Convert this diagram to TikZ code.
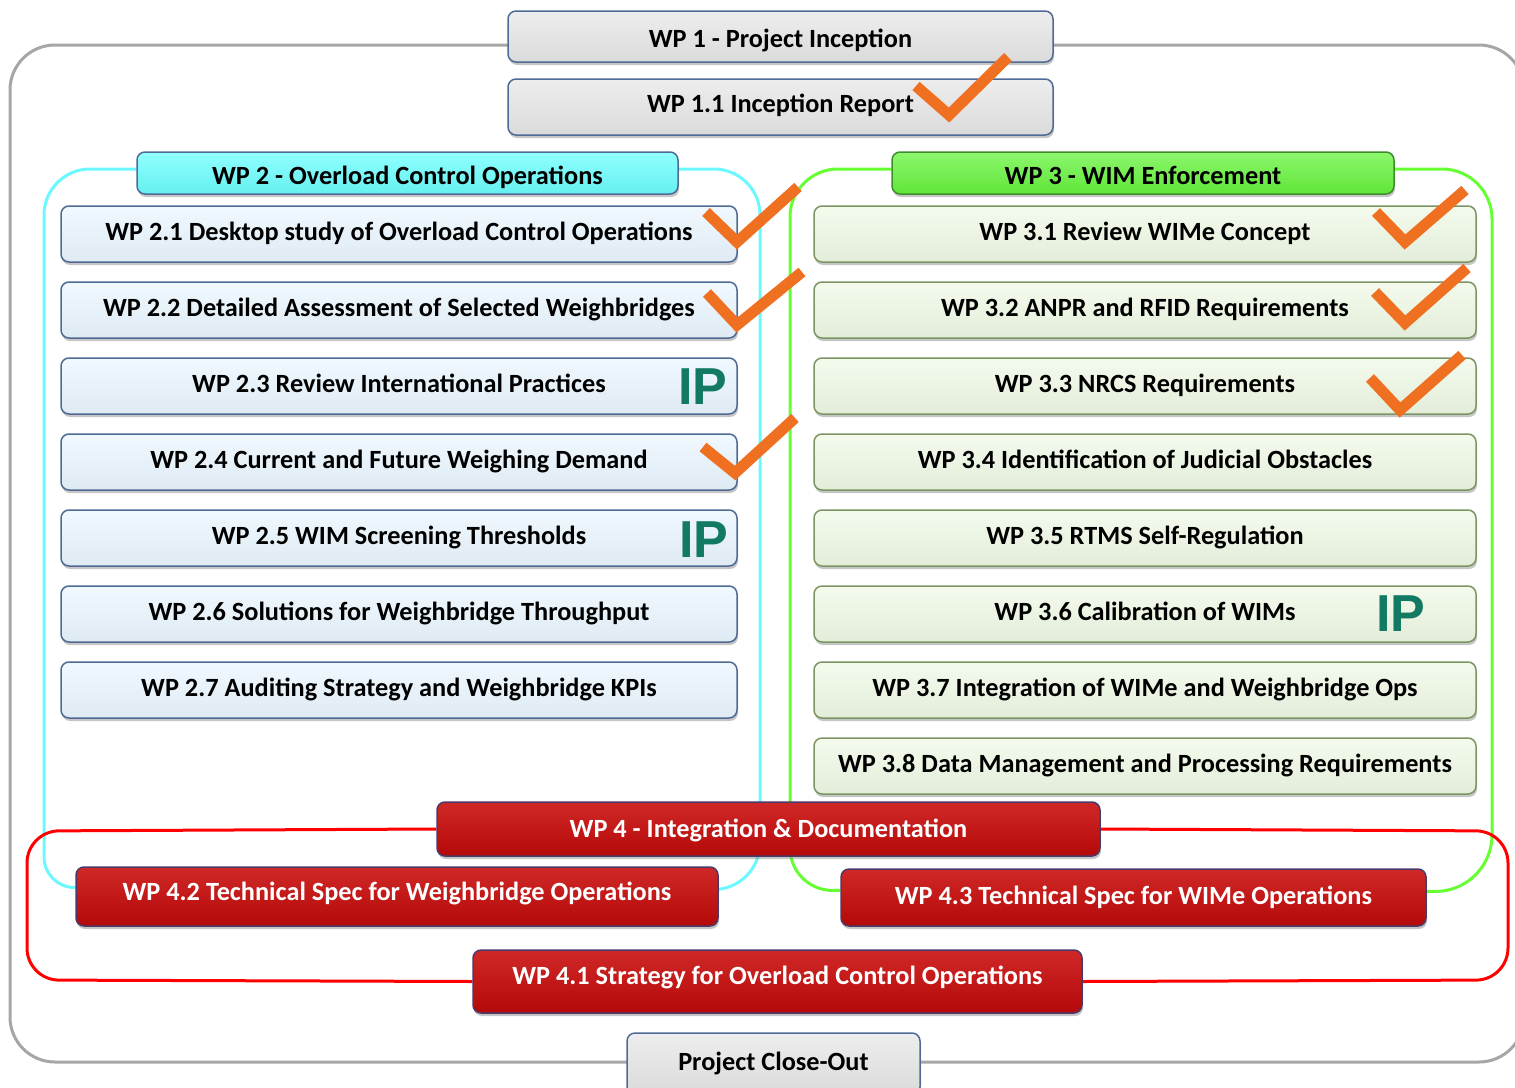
\documentclass[tikz,border=0pt]{standalone}
\usepackage{fontspec}
\setmainfont{Carlito}
\newfontfamily\ipfont{Liberation Sans}
\usetikzlibrary{shadows,calc}
\pgfdeclarelayer{background}
\pgfsetlayers{background,main}
\definecolor{bordblue}{HTML}{4F6B95}
\definecolor{bordgreen}{HTML}{7B9565}
\definecolor{greyfill}{HTML}{E6E6E6}
\definecolor{bluefill}{HTML}{EAF6FF}
\definecolor{greenfill}{HTML}{EFF9E5}
\definecolor{cyanfill}{HTML}{6CFFFF}
\definecolor{limefill}{HTML}{66F43C}
\definecolor{limebord}{HTML}{3E8C2E}
\definecolor{redfill}{HTML}{C90A0A}
\definecolor{redbord}{HTML}{4A3A6A}
\definecolor{frame}{HTML}{A6A6A6}
\definecolor{cyanline}{HTML}{6BF8FF}
\definecolor{greenline}{HTML}{66FF33}
\definecolor{redline}{HTML}{FF0000}
\definecolor{checkor}{HTML}{F07022}
\definecolor{iptxt}{HTML}{127A63}
\begin{document}
\begin{tikzpicture}[x=1pt,y=-1pt,
  wpbase/.style={rounded corners=8pt, line width=1.5pt, inner sep=0pt,
    font=\fontsize{26.3}{30}\selectfont\bfseries, text height=18pt, text depth=5pt,
    drop shadow={shadow xshift=1pt, shadow yshift=-3pt, opacity=0.45}},
  greybox/.style={wpbase, draw=bordblue, top color=greyfill!70!white, middle color=greyfill, bottom color=greyfill!95!black},
  bluebox/.style={wpbase, draw=bordblue, top color=bluefill!70!white, middle color=bluefill, bottom color=bluefill!95!black, minimum width=676pt, minimum height=56pt},
  greenbox/.style={wpbase, draw=bordgreen, top color=greenfill!70!white, middle color=greenfill, bottom color=greenfill!95!black, minimum width=662pt, minimum height=56pt},
  cyanhead/.style={wpbase, draw=bordblue, top color=cyanfill!75!white, middle color=cyanfill, bottom color=cyanfill!94!black, text height=28pt},
  limehead/.style={wpbase, draw=limebord, top color=limefill!75!white, middle color=limefill, bottom color=limefill!94!black, text height=28pt},
  redbox/.style={wpbase, draw=redbord, text=white, top color=redfill!88!white, middle color=redfill, bottom color=redfill!90!black},
  container/.style={line width=3pt},
  checkmark/.style={draw=checkor, line width=11pt, line join=miter, line cap=butt},
  iplabel/.style={inner sep=0pt, text=iptxt, font=\fontsize{52}{56}\ipfont\bfseries}
]
\useasboundingbox (0,0) rectangle (1515,1087);
\clip (0,0) rectangle (1515,1087);

% WP 1
\node[greybox, minimum width=545pt, minimum height=51pt, text height=26pt] (w1) at (780.5,36.5) {WP 1 - Project Inception};
\node[greybox, minimum width=545pt, minimum height=56pt, text depth=7pt] (w11) at (780.5,107) {WP 1.1 Inception Report};

% headers
\node[cyanhead, minimum width=541pt, minimum height=42pt] (w2) at (407.5,173) {WP 2 - Overload Control Operations};
\node[limehead, minimum width=502pt, minimum height=42pt] (w3) at (1143,173) {WP 3 - WIM Enforcement};

% WP 2.x
\node[bluebox] (w21) at (399,234) {WP 2.1 Desktop study of Overload Control Operations};
\node[bluebox] (w22) at (399,310) {WP 2.2 Detailed Assessment of Selected Weighbridges};
\node[bluebox] (w23) at (399,386) {WP 2.3 Review International Practices};
\node[bluebox] (w24) at (399,462) {WP 2.4 Current and Future Weighing Demand};
\node[bluebox] (w25) at (399,538) {WP 2.5 WIM Screening Thresholds};
\node[bluebox] (w26) at (399,614) {WP 2.6 Solutions for Weighbridge Throughput};
\node[bluebox] (w27) at (399,690) {WP 2.7 Auditing Strategy and Weighbridge KPIs};

% WP 3.x
\node[greenbox] (w31) at (1145,234) {WP 3.1 Review WIMe Concept};
\node[greenbox] (w32) at (1145,310) {WP 3.2 ANPR and RFID Requirements};
\node[greenbox] (w33) at (1145,386) {WP 3.3 NRCS Requirements};
\node[greenbox] (w34) at (1145,462) {WP 3.4 Identification of Judicial Obstacles};
\node[greenbox] (w35) at (1145,538) {WP 3.5 RTMS Self-Regulation};
\node[greenbox] (w36) at (1145,614) {WP 3.6 Calibration of WIMs};
\node[greenbox] (w37) at (1145,690) {WP 3.7 Integration of WIMe and Weighbridge Ops};
\node[greenbox] (w38) at (1145,766) {WP 3.8 Data Management and Processing Requirements};

% WP 4
\node[redbox, minimum width=663pt, minimum height=54pt, text height=22pt] (w4) at (768.5,829) {WP 4 - Integration \& Documentation};
\node[redbox, minimum width=642pt, minimum height=59pt, text depth=11pt] (w42) at (397,896.5) {WP 4.2 Technical Spec for Weighbridge Operations};
\node[redbox, minimum width=585pt, minimum height=57pt] (w43) at (1133.5,897.5) {WP 4.3 Technical Spec for WIMe Operations};
\node[redbox, minimum width=609pt, minimum height=63pt, text depth=13pt] (w41) at (777.5,981.5) {WP 4.1 Strategy for Overload Control Operations};

% close-out
\node[greybox, minimum width=293pt, minimum height=62pt] (wc) at (773.5,1064) {Project Close-Out};

% IP labels
\node[iplabel] (ip23) at (703,387) {IP};
\node[iplabel] (ip25) at (704,540) {IP};
\node[iplabel] (ip36) at (1401,614) {IP};

% check marks
\draw[checkmark] (916,86) -- (949,115) -- (1008,57);
\draw[checkmark] (706,212) -- (737,242) -- (798,187);
\draw[checkmark] (707,293) -- (737,325) -- (802,272);
\draw[checkmark] (703,447) -- (735,473) -- (795,418);
\draw[checkmark] (1376,212) -- (1405,242) -- (1465,190);
\draw[checkmark] (1375,292) -- (1405,323) -- (1467,268);
\draw[checkmark] (1370,378) -- (1400,410) -- (1462,355);

\begin{pgfonlayer}{background}
  % outer grey frame
  \draw[draw=frame, line width=3pt, rounded corners=45pt] (10,45) rectangle (1524,1062);
  % cyan container
  \draw[container, draw=cyanline, rounded corners=46pt]
    ([yshift=4pt]w2.east) -- (760,169) -- (760,889) -- ([yshift=7pt]w42.east);
  \draw[container, draw=cyanline, rounded corners=46pt]
    ([yshift=4pt]w2.west) -- (44,169) [rounded corners=30pt] -- (44,887) -- ([yshift=9pt]w42.west);
  % green container
  \draw[container, draw=greenline, rounded corners=50pt]
    ([yshift=4pt]w3.east) -- (1492,169) [rounded corners=56pt] -- (1492,891) -- ([yshift=6pt]w43.east);
  \draw[container, draw=greenline, rounded corners=48pt]
    ([yshift=4pt]w3.west) -- (790,169) [rounded corners=42pt] -- (790,890) -- ([yshift=7pt]w43.west);
  % red container
  \draw[container, draw=redline, rounded corners=32pt]
    (w4.west) -- (27,831) -- (27,980) -- (w41.west);
  \draw[container, draw=redline, rounded corners=32pt]
    (w4.east) -- (1508,831) -- (1508,980) -- (w41.east);
\end{pgfonlayer}
\end{tikzpicture}
\end{document}
